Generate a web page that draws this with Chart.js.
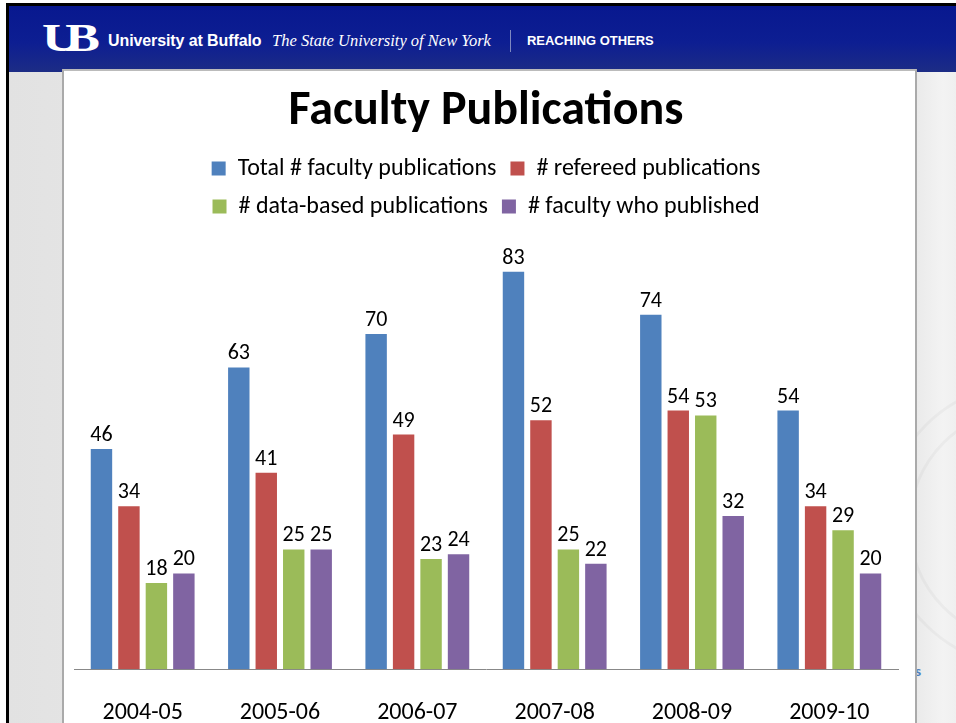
<!DOCTYPE html>
<html>
<head>
<meta charset="utf-8">
<script src="https://cdn.jsdelivr.net/npm/chart.js@4.4.1/dist/chart.umd.min.js"></script>
<style>
  html, body { margin:0; padding:0; background:#fff; width:956px; height:723px; overflow:hidden; position:relative; }
  #frame { position:absolute; left:6px; top:3px; width:960px; height:717px; border-left:3px solid #000; border-top:3px solid #000; border-bottom:3px solid #000; overflow:hidden; background:linear-gradient(90deg,#e2e2e2,#efefef 50%,#e6e6e6); }
  #header { position:absolute; left:0; top:0; width:960px; height:66px; background:linear-gradient(180deg,#08188f 0%,#0d1e92 55%,#1c2c85 100%); }
  #logo { position:absolute; left:33px; top:12px; color:#fff; font:bold 40px 'Liberation Serif', serif; line-height:40px; letter-spacing:-11px; transform:scaleX(1.3); transform-origin:left top; }
  #ub { position:absolute; left:99px; top:26px; color:#fff; font:bold 16px 'Liberation Sans', Arial, sans-serif; letter-spacing:-0.1px; }
  #suny { position:absolute; left:263px; top:25px; color:#fff; font:italic 16.5px 'Liberation Serif', serif; }
  #div { position:absolute; left:501px; top:24px; width:1px; height:22px; background:#7e88c0; }
  #reach { position:absolute; left:518px; top:27px; color:#fff; font:bold 13.5px 'Liberation Sans', Arial, sans-serif; transform:scaleX(0.96); transform-origin:left top; }
  #right { position:absolute; left:904px; top:66px; width:60px; height:660px; background:linear-gradient(90deg,#e9e9e9,#f3f3f3 50%,#ebebeb); overflow:hidden; }
  .ring { position:absolute; border:3px solid rgba(0,0,0,0.03); border-radius:50%; }
  #s { position:absolute; left:906px; top:656px; color:#4f81bd; font:bold 14px 'Lato', sans-serif; }
  #panel { position:absolute; left:53px; top:63px; width:851px; height:660px; background:#fff; border-left:2px solid #aaa; border-top:2px solid #bbb; border-right:2px solid #aaa; }
  #chartWrap { position:absolute; left:62px; top:70px; width:850px; height:686px; }
</style>
</head>
<body>
<div id="frame">
  <div id="header">
    <div id="logo">UB</div>
    <div id="ub">University at Buffalo</div>
    <div id="suny">The State University of New York</div>
    <div id="div"></div>
    <div id="reach">REACHING OTHERS</div>
  </div>
  <div id="right">
    <div class="ring" style="left:-30px;top:310px;width:280px;height:280px;"></div>
    <div class="ring" style="left:-5px;top:335px;width:230px;height:230px;"></div>
  </div>
  <div id="s">s</div>
  <div id="panel"></div>
</div>
<div id="chartWrap"><canvas id="c" width="850" height="686"></canvas></div>
<script>
const categories = ['2004-05', '2005-06', '2006-07', '2007-08', '2008-09', '2009-10'];
const totalPubs = [46, 63, 70, 83, 74, 54];
const refereedPubs = [34, 41, 49, 52, 54, 34];
const dataBasedPubs = [18, 25, 23, 25, 53, 29];
const facultyPublished = [20, 25, 24, 22, 32, 20];
const seriesNames = ['Total # faculty publications', '# refereed publications', '# data-based publications', '# faculty who published'];
const seriesColors = ['#4F81BD', '#C0504D', '#9BBB59', '#8064A2'];

const FONT = "Carlito, Calibri, Lato, 'Noto Sans', sans-serif";

const valueLabels = {
  id: 'valueLabels',
  afterDatasetsDraw(chart) {
    const ctx = chart.ctx;
    ctx.save();
    ctx.font = '22px ' + FONT;
    ctx.fillStyle = '#000';
    ctx.textAlign = 'center';
    ctx.textBaseline = 'alphabetic';
    chart.data.datasets.forEach((ds, i) => {
      const meta = chart.getDatasetMeta(i);
      meta.data.forEach((bar, j) => {
        ctx.fillText(String(ds.data[j]), bar.x, bar.y - 8);
      });
    });
    ctx.restore();
  }
};

const allSeries = [totalPubs, refereedPubs, dataBasedPubs, facultyPublished];
new Chart(document.getElementById('c'), {
  type: 'bar',
  data: {
    labels: categories,
    datasets: allSeries.map((d, i) => ({
      label: seriesNames[i],
      data: d,
      backgroundColor: seriesColors[i],
      borderWidth: 0,
      categoryPercentage: 0.80,
      barPercentage: 0.78
    }))
  },
  options: {
    responsive: false,
    animation: false,
    devicePixelRatio: 1,
    layout: { padding: { left: 12, right: 14, top: 0, bottom: 0 } },
    plugins: {
      title: {
        display: true,
        text: 'Faculty Publications',
        color: '#000',
        font: { family: FONT, size: 48, weight: 'bold', lineHeight: 1.2 },
        padding: { top: 13, bottom: 2 }
      },
      legend: {
        display: true,
        position: 'top',
        labels: {
          color: '#000',
          font: { family: FONT, size: 24 },
          boxWidth: 14,
          boxHeight: 14,
          padding: 14
        }
      },
      tooltip: { enabled: false }
    },
    scales: {
      x: {
        grid: { display: false, drawTicks: false },
        border: { display: true, color: '#888', width: 1 },
        ticks: { color: '#000', font: { family: FONT, size: 24 }, padding: 29, maxRotation: 0 }
      },
      y: {
        display: false,
        min: 0,
        max: 92
      }
    }
  },
  plugins: [valueLabels]
});
</script>
</body>
</html>
